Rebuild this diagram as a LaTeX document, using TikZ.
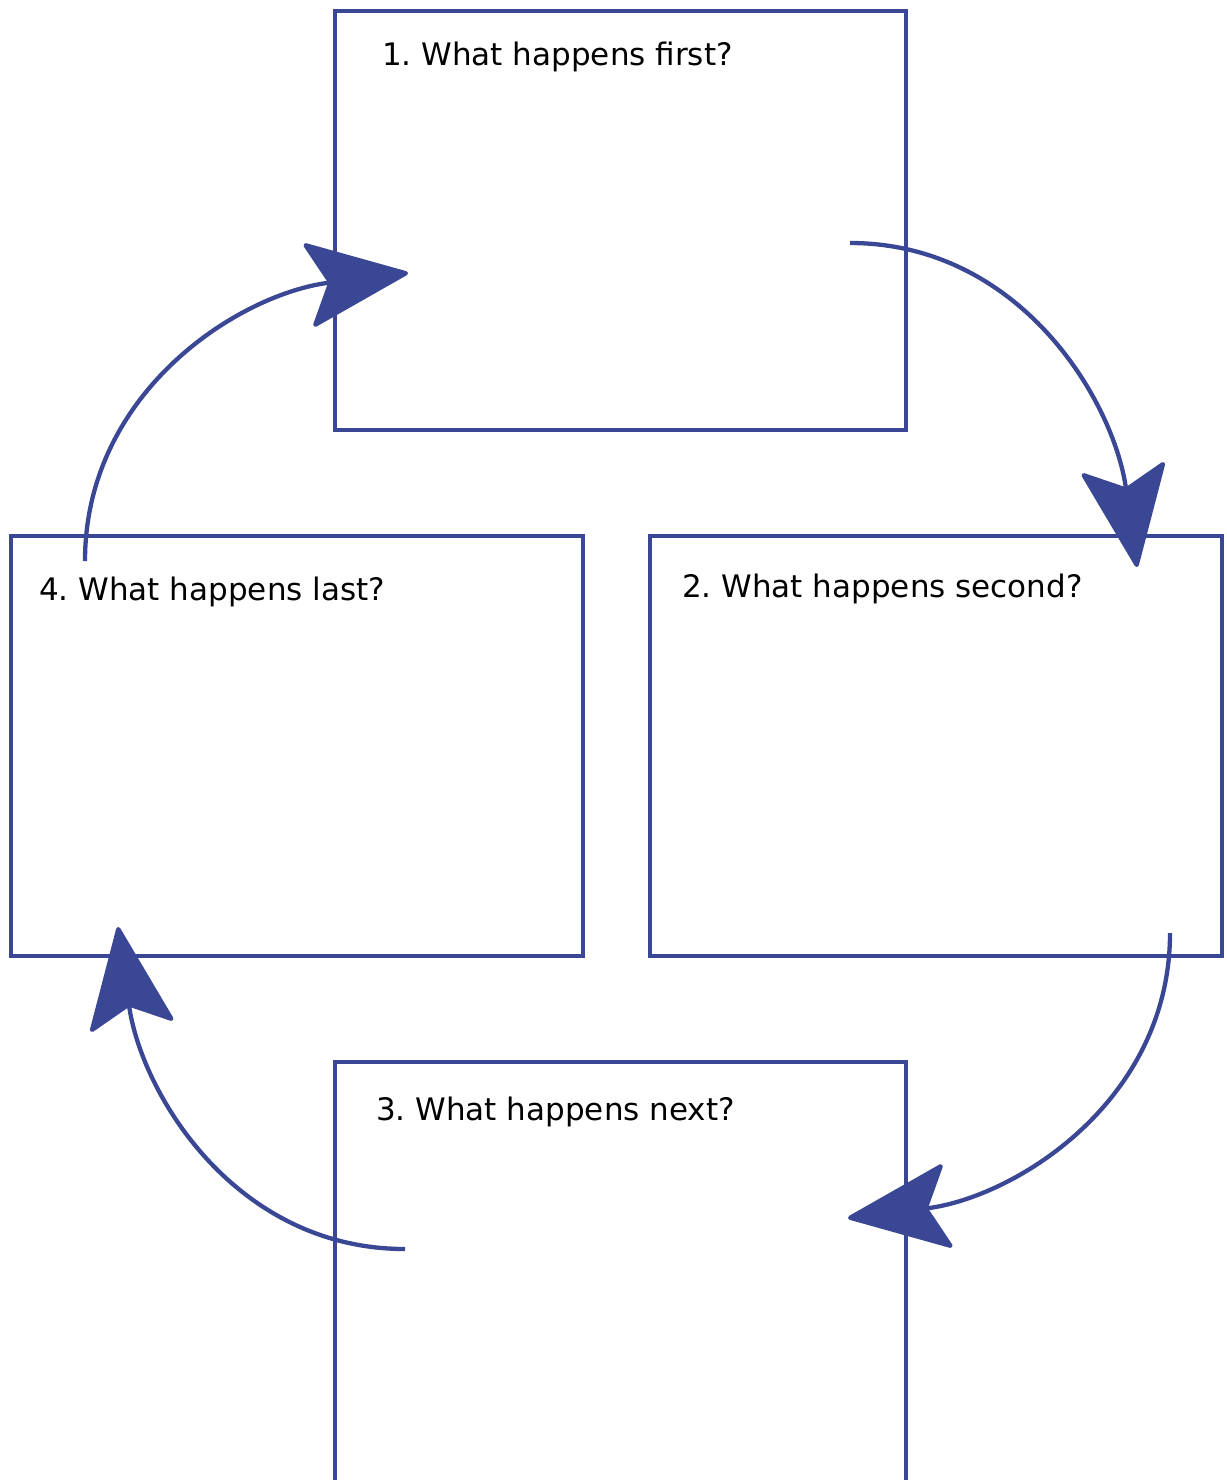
\documentclass[tikz,border=0pt]{standalone}
\usepackage{fontspec}
\setmainfont{DejaVu Sans}
\usetikzlibrary{arrows.meta}
\definecolor{frame}{RGB}{58,71,148}
\frenchspacing
\begin{document}
\begin{tikzpicture}[x=1pt,y=-1pt,
  panel/.style={draw=frame,line width=4.5pt,rectangle,inner sep=0pt},
  caption/.style={anchor=base west,inner sep=0pt,font=\fontsize{31}{35}\selectfont},
  flow/.style={draw=frame,line width=4.3pt,
    -{Stealth[length=106pt,width=88pt,inset=22pt,round=false]}}]
  \useasboundingbox (0,0) rectangle (1226,1480);
  % four panels
  \draw[panel] (335,11) rectangle (906,430);
  \draw[panel] (650,536) rectangle (1222,956);
  \draw[panel] (335,1062) rectangle (906,1484);
  \draw[panel] (11,536) rectangle (583,956);
  \node[caption] (t1) at (382,66) {1. What happens first?};
  \node[caption] (t2) at (682,597) {2. What happens second?};
  \node[caption] (t3) at (376,1120) {3. What happens next?};
  \node[caption] (t4) at (39,600) {4. What happens last?};
  % arrow ends
  \coordinate (a1) at (850,243);
  \coordinate (b1) at (1137,567);
  \coordinate (a2) at (1170,933);
  \coordinate (b2) at (848,1218);
  \coordinate (a3) at (405,1249);
  \coordinate (b3) at (118,927);
  \coordinate (a4) at (85,561);
  \coordinate (b4) at (408,273);
  \draw[flow] (a1) to[out=0,in=98] (b1);
  \draw[flow] (a2) to[out=-90,in=7] (b2);
  \draw[flow] (a3) to[out=180,in=-82] (b3);
  \draw[flow] (a4) to[out=90,in=187] (b4);
\end{tikzpicture}
\end{document}
